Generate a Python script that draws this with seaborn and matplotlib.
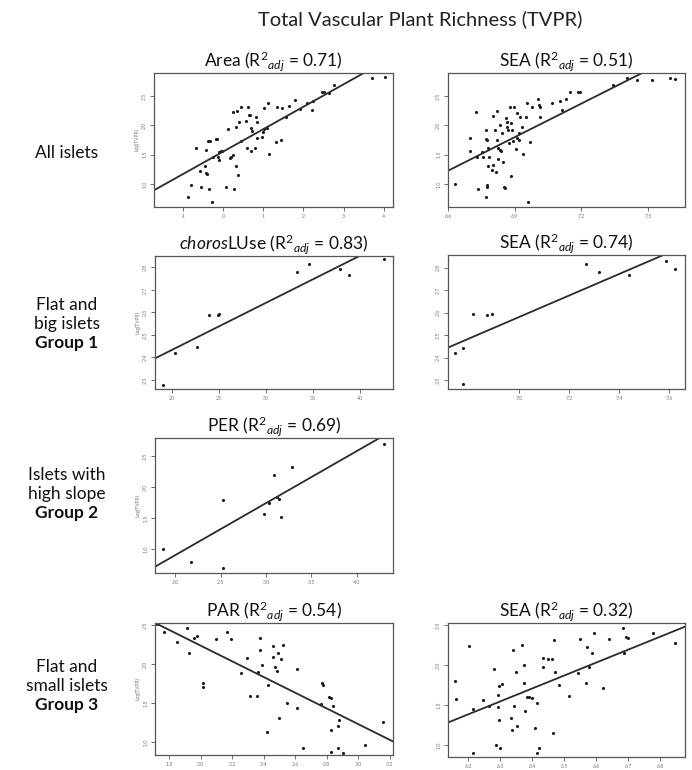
import matplotlib
matplotlib.use("Agg")
import matplotlib.pyplot as plt
import seaborn as sns

# ---- data ----
area_x = [-0.86, -0.80, -0.68, -0.57, -0.55, -0.45, -0.42, -0.42, -0.39, -0.35, -0.37, -0.32, -0.27, -0.24,
          -0.18, -0.15, -0.13, -0.11, -0.11, -0.05, -0.02, 0.07, 0.12, 0.17, 0.20, 0.24, 0.26, 0.27, 0.32,
          0.32, 0.36, 0.37, 0.40, 0.44, 0.46, 0.57, 0.60, 0.62, 0.65, 0.67, 0.70, 0.70, 0.72, 0.79, 0.81,
          0.84, 0.85, 0.96, 1.00, 1.01, 1.03, 1.09, 1.13, 1.14, 1.32, 1.35, 1.45, 1.48, 1.56, 1.63, 1.78,
          1.92, 2.08, 2.21, 2.25, 2.47, 2.51, 2.64, 2.77, 3.71, 4.03]
area_y = [0.78, 0.99, 1.61, 1.22, 0.95, 1.31, 1.58, 1.18, 1.17, 0.91, 1.74, 1.74, 0.70, 1.47, 1.77, 1.77,
          1.47, 1.41, 1.55, 1.56, 1.56, 0.95, 1.94, 1.44, 1.47, 1.50, 2.23, 0.91, 1.31, 1.98, 2.25, 1.15,
          2.06, 1.74, 2.32, 2.08, 1.62, 2.31, 2.18, 2.18, 1.57, 1.96, 1.91, 1.61, 2.14, 1.78, 2.06, 1.81,
          1.89, 2.30, 1.94, 1.95, 2.38, 1.51, 1.72, 2.31, 1.76, 2.30, 2.14, 2.34, 2.44, 2.28, 2.38, 2.27,
          2.42, 2.57, 2.58, 2.56, 2.69, 2.81, 2.83]

sea_all_x = [6.630, 6.698, 6.698, 6.725, 6.731, 6.732, 6.750, 6.758, 6.770, 6.770, 6.770, 6.776, 6.776,
             6.780, 6.776, 6.780, 6.785, 6.795, 6.800, 6.803, 6.809, 6.815, 6.818, 6.821, 6.825, 6.833,
             6.836, 6.825, 6.833, 6.841, 6.845, 6.851, 6.855, 6.860, 6.863, 6.866, 6.870, 6.872, 6.878,
             6.882, 6.882, 6.886, 6.893, 6.896, 6.905, 6.908, 6.911, 6.918, 6.920, 6.923, 6.931, 6.938,
             6.950, 6.956, 6.960, 6.968, 6.976, 7.005, 7.010, 7.013, 7.013, 7.066, 7.103, 7.111, 7.129,
             7.148, 7.186, 7.193, 7.343, 7.404, 7.449, 7.516, 7.599, 7.621]
sea_all_y = [1.00, 1.78, 1.57, 2.23, 1.47, 0.91, 1.55, 1.47, 0.78, 1.92, 1.77, 1.75, 0.98, 1.61, 0.95, 1.31,
             1.47, 1.24, 1.32, 2.16, 1.92, 1.21, 2.24, 1.75, 1.61, 1.58, 1.57, 1.42, 2.01, 1.87, 1.38, 0.95,
             0.93, 2.12, 1.98, 2.06, 1.92, 1.70, 2.32, 2.05, 1.14, 1.92, 1.74, 2.32, 1.59, 1.78, 2.21, 1.88,
             1.75, 2.15, 1.98, 1.51, 2.14, 2.39, 0.70, 1.71, 2.32, 2.45, 2.35, 2.32, 2.14, 2.39, 2.41, 2.26,
             2.45, 2.58, 2.58, 2.58, 2.69, 2.81, 2.78, 2.77, 2.82, 2.79]

choros_x = [19.07, 20.32, 22.69, 23.97, 24.86, 24.95, 33.27, 34.57, 37.87, 38.86, 42.55]
choros_y = [2.278, 2.419, 2.445, 2.588, 2.590, 2.593, 2.781, 2.814, 2.793, 2.767, 2.838]

sea_g1_x = [6.744, 6.775, 6.777, 6.817, 6.873, 6.892, 7.267, 7.321, 7.441, 7.588, 7.625]
sea_g1_y = [2.421, 2.444, 2.281, 2.593, 2.588, 2.592, 2.814, 2.781, 2.767, 2.830, 2.795]

per_x = [1.871, 2.173, 2.531, 2.531, 2.978, 3.036, 3.088, 3.124, 3.146, 3.162, 3.282, 4.297]
per_y = [1.005, 0.790, 1.795, 0.703, 1.569, 1.742, 2.203, 1.848, 1.811, 1.526, 2.332, 2.698]

par_x = [1.722, 1.770, 1.853, 1.912, 1.927, 1.959, 1.976, 2.018, 2.018, 2.097, 2.166, 2.194, 2.255, 2.293,
         2.314, 2.357, 2.367, 2.378, 2.378, 2.389, 2.420, 2.430, 2.458, 2.462, 2.473, 2.484, 2.494, 2.500,
         2.511, 2.526, 2.547, 2.615, 2.615, 2.649, 2.770, 2.780, 2.763, 2.818, 2.829, 2.843, 2.829, 2.875,
         2.881, 2.827, 2.875, 2.903, 3.044, 3.159]
par_y = [2.518, 2.415, 2.283, 2.470, 2.149, 2.342, 2.364, 1.763, 1.704, 2.329, 2.415, 2.321, 1.884, 2.077,
         1.593, 1.593, 1.905, 2.334, 2.184, 1.991, 1.126, 1.734, 2.235, 2.090, 1.969, 1.918, 2.141, 1.306,
         2.064, 2.248, 1.499, 1.936, 1.434, 0.920, 1.756, 1.734, 1.490, 1.584, 1.563, 1.464, 1.155, 1.207,
         1.284, 0.877, 0.920, 0.864, 0.963, 1.258]

sea_g3_x = [6.158, 6.161, 6.202, 6.215, 6.215, 6.246, 6.265, 6.281, 6.285, 6.293, 6.293, 6.294, 6.295,
            6.298, 6.304, 6.332, 6.335, 6.338, 6.342, 6.348, 6.353, 6.367, 6.373, 6.373, 6.377, 6.384,
            6.390, 6.398, 6.408, 6.413, 6.415, 6.421, 6.432, 6.434, 6.449, 6.460, 6.465, 6.467, 6.470,
            6.484, 6.515, 6.543, 6.548, 6.567, 6.571, 6.578, 6.585, 6.592, 6.621, 6.640, 6.682, 6.686,
            6.694, 6.699, 6.778, 6.845]
sea_g3_y = [1.804, 1.575, 2.238, 0.904, 1.450, 1.563, 1.488, 1.946, 1.000, 1.625, 1.479, 1.313, 1.738,
            0.959, 1.759, 1.334, 1.188, 2.188, 1.488, 1.916, 1.238, 2.250, 2.000, 1.779, 1.425, 1.596,
            1.604, 1.584, 1.209, 1.521, 0.904, 0.959, 2.084, 1.971, 2.071, 2.071, 1.154, 2.313, 1.909,
            1.750, 1.613, 1.896, 2.321, 1.771, 2.221, 1.979, 2.146, 2.404, 1.709, 2.321, 2.459, 2.146,
            2.354, 2.341, 2.404, 2.279]

# fitted lines
fit_slope = [0.384, 1.912, 0.02092, 0.478, 0.841, -1.009, 1.617]
fit_intercept = [1.552, -11.391, 2.0155, -0.766, -0.778, 4.259, -8.641]

predictors = ["Area", "SEA", r"$\mathit{choros}$LUse", "SEA", "PER", "PAR", "SEA"]
r2_adj = ["0.71", "0.51", "0.83", "0.74", "0.69", "0.54", "0.32"]

xticks = [[-1, 0, 1, 2, 3, 4],
          [6.6, 6.9, 7.2, 7.5],
          [20, 25, 30, 35, 40],
          [7.0, 7.2, 7.4, 7.6],
          [2.0, 2.5, 3.0, 3.5, 4.0],
          [1.8, 2.0, 2.2, 2.4, 2.6, 2.8, 3.0, 3.2],
          [6.2, 6.3, 6.4, 6.5, 6.6, 6.7, 6.8]]
yticks = [[1.0, 1.5, 2.0, 2.5],
          [1.0, 1.5, 2.0, 2.5],
          [2.3, 2.4, 2.5, 2.6, 2.7, 2.8],
          [2.3, 2.4, 2.5, 2.6, 2.7, 2.8],
          [1.0, 1.5, 2.0, 2.5],
          [1.0, 1.5, 2.0, 2.5],
          [1.0, 1.5, 2.0, 2.5]]

row_labels = [["All islets"],
              ["Flat and", "big islets", "Group 1"],
              ["Islets with", "high slope", "Group 2"],
              ["Flat and", "small islets", "Group 3"]]

# ---- layout ----
W, H = 692, 770
sns.set_theme(style="ticks")
plt.rcParams["font.family"] = ["Lato", "DejaVu Sans"]
plt.rcParams.update({
    "mathtext.fontset": "custom",
    "mathtext.rm": "Lato",
    "mathtext.it": "Lato:italic",
    "mathtext.bf": "Lato:bold",
})


def px_rect(l, t, r, b):
    return [l / W, 1 - b / H, (r - l) / W, (b - t) / H]


# pixel boxes, axis limits
boxes = [(154, 73, 393, 207), (448, 73, 685, 207),
         (155, 256, 393, 389), (448, 255, 685, 389),
         (155, 438, 393, 573),
         (155, 623, 393, 755), (448, 623, 685, 757)]
xlims = [(-1.716, 4.229), (6.599, 7.666), (18.19, 43.51), (6.716, 7.664),
         (1.780, 4.396), (1.711, 3.222), (6.136, 6.877)]
ylims = [(0.607, 2.897), (0.607, 2.897), (2.26, 2.851), (2.26, 2.856),
         (0.618, 2.795), (0.834, 2.531), (0.85, 2.525)]
left_col = [True, False, True, False, True, True, False]

xs_all = [area_x, sea_all_x, choros_x, sea_g1_x, per_x, par_x, sea_g3_x]
ys_all = [area_y, sea_all_y, choros_y, sea_g1_y, per_y, par_y, sea_g3_y]

fig = plt.figure(figsize=(W / 100, H / 100), dpi=100)
fig.patch.set_facecolor("white")

for i in range(7):
    ax = fig.add_axes(px_rect(*boxes[i]))
    ax.set_facecolor("white")
    sns.scatterplot(x=xs_all[i], y=ys_all[i], ax=ax, color="#1a1a1a", s=5,
                    linewidth=0, marker="o")
    ax.axline((0, fit_intercept[i]), slope=fit_slope[i], color="#2a2a2a", lw=1.3)
    ax.set_xlim(*xlims[i])
    ax.set_ylim(*ylims[i])
    ax.set_xticks(xticks[i])
    ax.set_yticks(yticks[i])
    ax.set_xticklabels([str(t) for t in xticks[i]])
    ax.set_yticklabels([f"{t:.1f}" for t in yticks[i]])
    ax.tick_params(length=3, width=0.6, pad=2, labelsize=3.8, colors="#555555",
                   labelcolor="#777777", direction="out")
    plt.setp(ax.get_yticklabels(), rotation=90, va="center")
    for sp in ax.spines.values():
        sp.set_visible(True)
        sp.set_linewidth(0.9)
        sp.set_color("#555555")
    ax.grid(False)
    title = predictors[i] + r" ($\mathrm{R}^{2}{}_{adj}$ = " + r2_adj[i] + ")"
    ax.set_title(title, fontsize=12.5, pad=3, color="#111111")
    if left_col[i]:
        ax.set_ylabel("Log(TVPR)", fontsize=3.5, labelpad=1.5, color="#777777")

fig.text(420 / W, 1 - 19 / H, "Total Vascular Plant Richness (TVPR)",
         ha="center", va="center", fontsize=14.5, color="#222222")

row_y = [[153], [305, 324, 343], [475, 494, 513], [667, 686, 705]]
for lines, ys in zip(row_labels, row_y):
    for txt, yy in zip(lines, ys):
        bold = txt.startswith("Group")
        fig.text(67 / W, 1 - yy / H, txt, ha="center", va="center", fontsize=12.5,
                 fontweight="bold" if bold else "normal", color="#111111")

fig.savefig("out.png", dpi=100, facecolor="white")
